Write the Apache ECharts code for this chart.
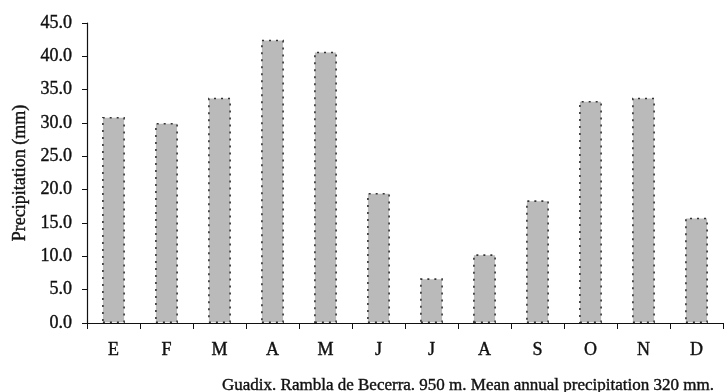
<!DOCTYPE html>
<html><head><meta charset="utf-8">
<script src="https://cdn.jsdelivr.net/npm/echarts@6/dist/echarts.min.js"></script>
<style>html,body{margin:0;padding:0;background:#fff}#c{width:726px;height:392px}</style>
</head><body><div id="c"></div>
<script>
const months = ['E','F','M','A','M','J','J','A','S','O','N','D'];
const precipitation = [30.9, 30.0, 33.8, 42.5, 40.7, 19.5, 6.7, 10.3, 18.4, 33.3, 33.8, 15.8];
const yAxisTitle = 'Precipitation (mm)';
const footer = 'Guadix. Rambla de Becerra. 950 m. Mean annual precipitation 320 mm.';
const font = 'Liberation Serif';
const ink = '#111';
const thick = {textBorderColor: ink, textBorderWidth: 0.4};
const chart = echarts.init(document.getElementById('c'));
chart.setOption({
  animation: false,
  textStyle: {fontFamily: font},
  grid: {left: 87, right: 3, top: 23, bottom: 69, containLabel: false},
  title: {text: footer, left: 463, textAlign: 'center', top: 372,
    textStyle: Object.assign({fontFamily: font, fontSize: 17, fontWeight: 'normal', color: ink}, thick)},
  xAxis: {type: 'category', data: months,
    axisLine: {lineStyle: {color: ink, width: 1.2}},
    axisTick: {show: true, length: 6, lineStyle: {color: ink}},
    axisLabel: Object.assign({fontFamily: font, fontSize: 18, color: ink, margin: 18}, thick)},
  yAxis: {type: 'value', min: 0, max: 45, interval: 5,
    name: yAxisTitle, nameLocation: 'middle', nameGap: 58,
    nameTextStyle: Object.assign({fontFamily: font, fontSize: 18, color: ink}, thick),
    axisLine: {show: true, lineStyle: {color: ink, width: 1.2}},
    axisTick: {show: true, length: 5, lineStyle: {color: ink}},
    splitLine: {show: false},
    axisLabel: Object.assign({fontFamily: font, fontSize: 18, color: ink, margin: 15,
      formatter: v => v.toFixed(1)}, thick)},
  series: [{type: 'bar', data: precipitation, barWidth: '43%',
    itemStyle: {color: '#bababa', borderColor: '#333', borderWidth: 1.6, borderType: [2, 5]}}]
});
</script></body></html>
